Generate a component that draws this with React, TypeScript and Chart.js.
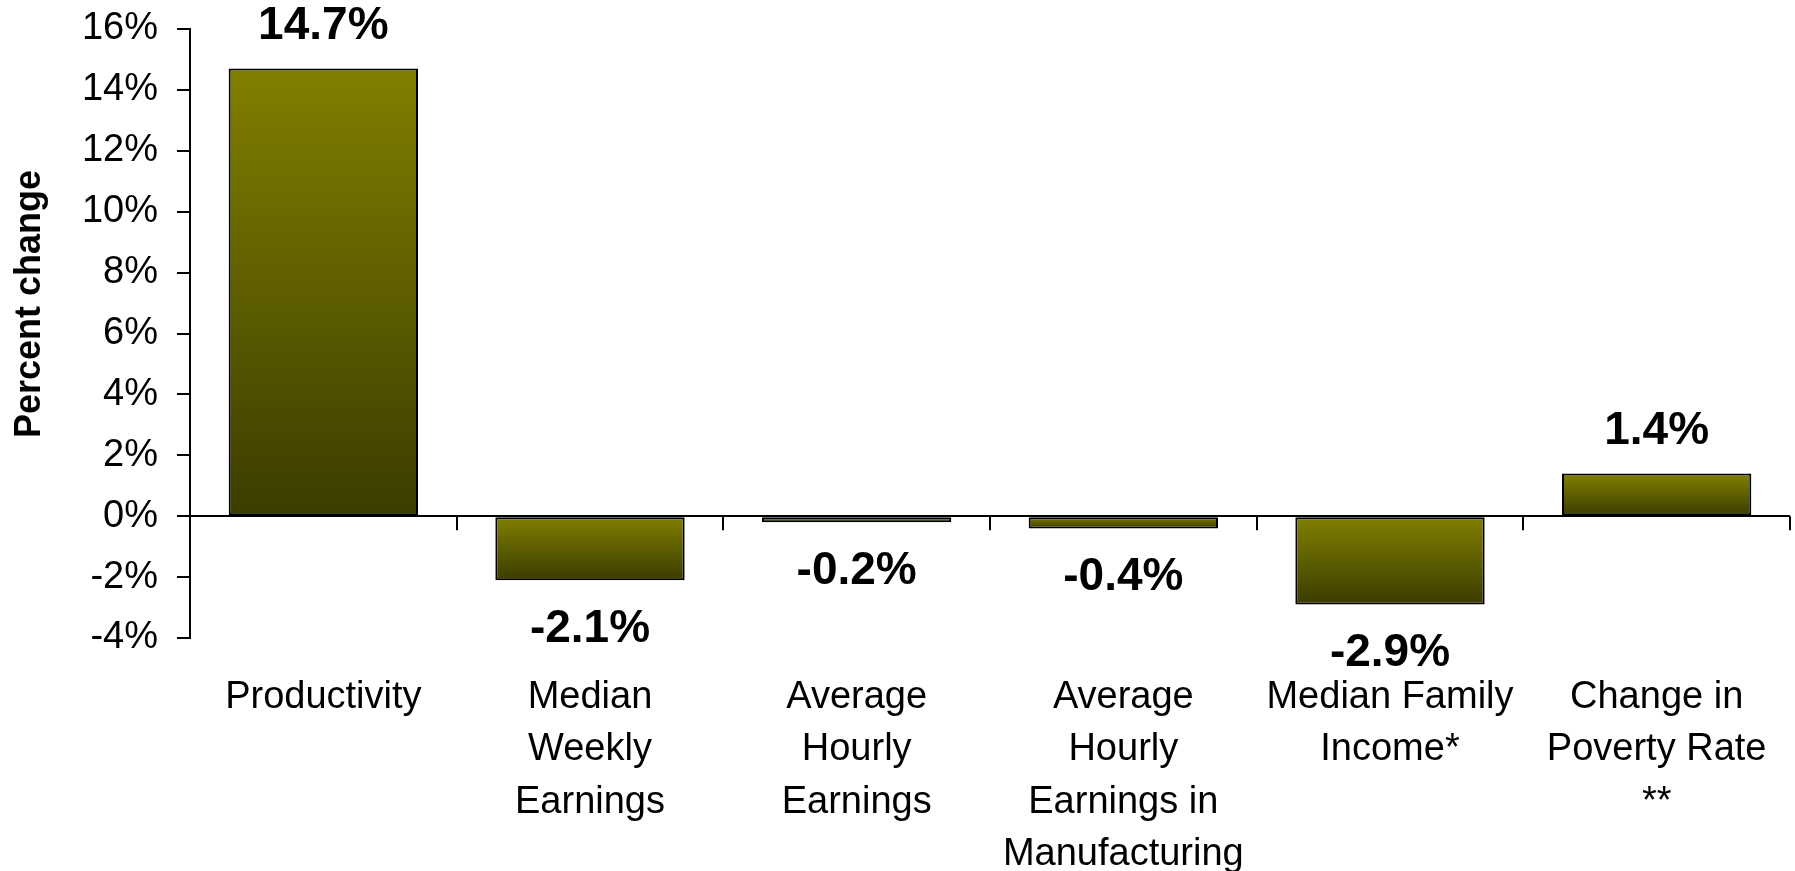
import React, { useEffect, useRef } from "react";
import { Chart, registerables } from "chart.js";

Chart.register(...registerables);

const categories: string[][] = [
  ["Productivity"],
  ["Median", "Weekly", "Earnings"],
  ["Average", "Hourly", "Earnings"],
  ["Average", "Hourly", "Earnings in", "Manufacturing"],
  ["Median Family", "Income*"],
  ["Change in", "Poverty Rate", "**"],
];
const values: number[] = [14.7, -2.1, -0.2, -0.4, -2.9, 1.4];
const valueLabels: string[] = ["14.7%", "-2.1%", "-0.2%", "-0.4%", "-2.9%", "1.4%"];
const yMin = -4;
const yMax = 16;
const yStep = 2;
const yTitle = "Percent change";

const FONT = '"Liberation Sans", Arial, Helvetica, sans-serif';
const TOP_COLOR = "#808000";
const BOTTOM_COLOR = "#3c3c00";

export default function App() {
  const ref = useRef<HTMLCanvasElement | null>(null);

  useEffect(() => {
    if (!ref.current) return;

    const overlay = {
      id: "overlay",
      afterDatasetsDraw(chart: any) {
        const ctx = chart.ctx;
        const xs = chart.scales.x;
        const ys = chart.scales.y;
        const y0 = ys.getPixelForValue(0);
        ctx.save();
        // category boundary tick marks below the zero line
        ctx.strokeStyle = "#000";
        ctx.lineWidth = 2;
        const n = categories.length;
        const half = (xs.getPixelForValue(1) - xs.getPixelForValue(0)) / 2;
        for (let i = 0; i < n; i++) {
          const bx = Math.round(xs.getPixelForValue(i) + half);
          ctx.beginPath();
          ctx.moveTo(bx, y0);
          ctx.lineTo(bx, y0 + 14);
          ctx.stroke();
        }
        // value labels
        const meta = chart.getDatasetMeta(0);
        ctx.fillStyle = "#000";
        ctx.font = `bold 46px ${FONT}`;
        ctx.textAlign = "center";
        ctx.textBaseline = "middle";
        meta.data.forEach((el: any, i: number) => {
          const v = values[i];
          const y = v >= 0 ? el.y - 42 : el.y + 49;
          ctx.fillText(valueLabels[i], el.x, y);
        });
        // y axis title
        ctx.font = `bold 36px ${FONT}`;
        ctx.textBaseline = "alphabetic";
        ctx.translate(40, 304);
        ctx.rotate(-Math.PI / 2);
        ctx.fillText(yTitle, 0, 0);
        ctx.restore();
      },
    };

    const chart = new Chart(ref.current, {
      type: "bar",
      data: {
        labels: categories,
        datasets: [
          {
            data: values,
            backgroundColor: (c: any) => {
              const ch = c.chart;
              if (!ch.chartArea || c.raw === undefined) return TOP_COLOR;
              const ys = ch.scales.y;
              const a = ys.getPixelForValue(0);
              const b = ys.getPixelForValue(c.raw);
              const top = Math.min(a, b);
              const bot = Math.max(a, b);
              if (!isFinite(top) || !isFinite(bot) || bot - top < 1) return TOP_COLOR;
              const g = ch.ctx.createLinearGradient(0, top, 0, bot);
              g.addColorStop(0, TOP_COLOR);
              g.addColorStop(1, BOTTOM_COLOR);
              return g;
            },
            borderColor: "#000",
            borderWidth: 2,
            borderSkipped: false,
            categoryPercentage: 1,
            barPercentage: 0.71,
          },
        ],
      },
      options: {
        responsive: false,
        animation: false,
        devicePixelRatio: 1,
        layout: { padding: { top: 29, right: 5, left: 0, bottom: 0 } },
        plugins: {
          legend: { display: false },
          tooltip: { enabled: false },
        },
        scales: {
          x: {
            border: { display: false },
            grid: { display: false, drawTicks: false },
            ticks: {
              autoSkip: false,
              maxRotation: 0,
              minRotation: 0,
              padding: 33,
              color: "#000",
              font: { family: FONT, size: 38, lineHeight: 1.38 },
            },
            afterFit: (s: any) => {
              s.height = 233;
              s.paddingLeft = 0;
              s.paddingRight = 0;
            },
          },
          y: {
            min: yMin,
            max: yMax,
            border: { display: true, color: "#000", width: 2 },
            grid: {
              drawOnChartArea: true,
              color: (c: any) => (c.tick && c.tick.value === 0 ? "#000" : "rgba(0,0,0,0)"),
              lineWidth: 2,
              tickColor: "#000",
              tickLength: 13,
              tickWidth: 2,
            },
            ticks: {
              stepSize: yStep,
              padding: 19,
              color: "#000",
              font: { family: FONT, size: 38 },
              callback: (v: any) => `${v}%`,
            },
            afterFit: (s: any) => {
              s.width = 190;
              s.paddingTop = 0;
              s.paddingBottom = 0;
            },
          },
        },
      },
      plugins: [overlay],
    });

    return () => chart.destroy();
  }, []);

  return (
    <div style={{ position: "fixed", left: 0, top: 0, width: 1795, height: 871, background: "#fff" }}>
      <canvas ref={ref} width={1795} height={871} style={{ width: 1795, height: 871, display: "block" }} />
    </div>
  );
}
